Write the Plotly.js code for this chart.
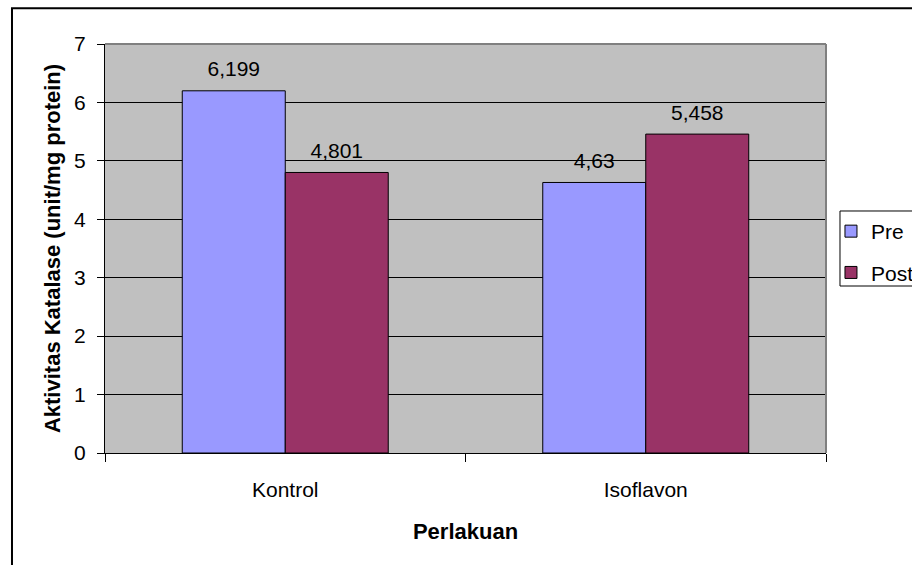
<!DOCTYPE html>
<html>
<head>
<meta charset="utf-8">
<script src="https://cdn.plot.ly/plotly-3.0.1.min.js"></script>
<style>
  html, body { margin: 0; padding: 0; background: #ffffff; }
  #chart { width: 912px; height: 565px; }
</style>
</head>
<body>
<div id="chart"></div>
<script>
const categories = ["Kontrol", "Isoflavon"];
const seriesNames = ["Pre", "Post"];
const preValues = [6.199, 4.63];
const postValues = [4.801, 5.458];
const yTickValues = [0, 1, 2, 3, 4, 5, 6, 7];

const FONT = "Arial, 'Liberation Sans', sans-serif";
const fmt = v => String(v).replace('.', ',');

const barStyle = (color) => ({ color: color, line: { color: '#000000', width: 1 } });

const traces = [
  {
    type: 'bar', name: seriesNames[0], x: categories, y: preValues,
    marker: barStyle('#9999FF'), legendgroup: 'a', hoverinfo: 'none'
  },
  {
    type: 'bar', name: seriesNames[1], x: categories, y: postValues,
    marker: barStyle('#993366'), legendgroup: 'b', hoverinfo: 'none'
  },
  {
    type: 'scatter', mode: 'markers+text', x: categories, y: preValues,
    text: preValues.map(fmt), textposition: 'top center',
    textfont: { family: FONT, size: 21, color: '#000000' },
    marker: { size: 13, color: 'rgba(0,0,0,0)' },
    showlegend: false, hoverinfo: 'none', cliponaxis: false
  },
  {
    type: 'scatter', mode: 'markers+text', x: categories, y: postValues,
    text: postValues.map(fmt), textposition: 'top center',
    textfont: { family: FONT, size: 21, color: '#000000' },
    marker: { size: 13, color: 'rgba(0,0,0,0)' },
    showlegend: false, hoverinfo: 'none', cliponaxis: false
  }
];

const layout = {
  width: 912, height: 565,
  margin: { l: 105, r: 86, t: 44, b: 112, pad: 0, autoexpand: false },
  paper_bgcolor: '#ffffff',
  plot_bgcolor: '#C0C0C0',
  font: { family: FONT, size: 21, color: '#000000' },
  barmode: 'group',
  bargap: 0.4286,
  bargroupgap: 0,
  scattermode: 'group',
  scattergap: 0.4286,
  showlegend: true,
  legend: {
    x: 1.0069, xanchor: 'left', y: 0.5917, yanchor: 'top',
    bgcolor: 'rgba(0,0,0,0)', borderwidth: 0,
    font: { family: FONT, size: 21, color: '#000000' },
    traceorder: 'grouped', tracegroupgap: 11, itemwidth: 30
  },
  xaxis: {
    type: 'category', automargin: false,
    showgrid: false, zeroline: false,
    showline: true, linecolor: '#000000', linewidth: 1,
    ticks: 'outside', tickson: 'boundaries', ticklen: 8, tickcolor: '#000000', tickwidth: 1,
    ticklabelstandoff: 18,
    tickfont: { family: FONT, size: 21, color: '#000000' },
    title: { text: 'Perlakuan', font: { family: FONT, size: 22, color: '#000000', weight: 'bold' }, standoff: 23 },
    fixedrange: true
  },
  yaxis: {
    range: [0, 7], automargin: false,
    tickvals: yTickValues, ticktext: yTickValues.map(String),
    showgrid: true, gridcolor: '#000000', gridwidth: 1,
    zeroline: false,
    showline: true, linecolor: '#000000', linewidth: 1,
    ticks: 'outside', ticklen: 7, tickcolor: '#000000', tickwidth: 1,
    ticklabelstandoff: 7,
    tickfont: { family: FONT, size: 21, color: '#000000' },
    title: { text: 'Aktivitas Katalase (unit/mg protein)', font: { family: FONT, size: 22, color: '#000000', weight: 'bold' }, standoff: 7 },
    fixedrange: true
  },
  shapes: [
    { type: 'line', xref: 'paper', yref: 'paper', x0: 0, x1: 1, y0: 1, y1: 1, line: { color: '#808080', width: 2 }, layer: 'above' },
    { type: 'line', xref: 'paper', yref: 'paper', x0: 1, x1: 1, y0: 0, y1: 1, line: { color: '#808080', width: 2 }, layer: 'above' },
    { type: 'rect', xref: 'paper', yref: 'paper', x0: -0.129, x1: 1.4, y0: -0.5, y1: 1.0875, line: { color: '#000000', width: 2 }, fillcolor: 'rgba(0,0,0,0)', layer: 'above' },
    { type: 'rect', xref: 'paper', yref: 'paper', x0: 1.0194, x1: 1.3, y0: 0.4083, y1: 0.5917, line: { color: '#000000', width: 1 }, fillcolor: '#ffffff', layer: 'above' }
  ]
};

Plotly.newPlot('chart', traces, layout, { displayModeBar: false, staticPlot: true });
</script>
</body>
</html>
